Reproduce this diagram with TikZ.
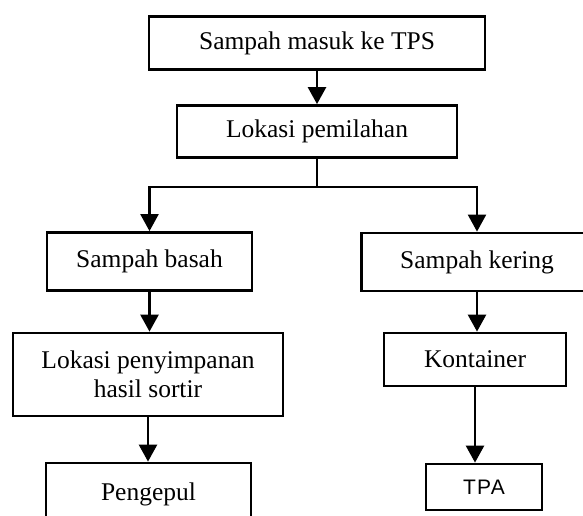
\documentclass[tikz,border=0pt]{standalone}
\usepackage{fontspec}
\setmainfont{Liberation Serif}
\newfontfamily\tpafont[LetterSpace=6]{Liberation Sans}
\usetikzlibrary{arrows.meta}

\begin{document}
\begin{tikzpicture}[x=1pt, y=-1pt,
	kotak/.style={rectangle, draw, line width=2.8pt, text centered, inner sep=0pt,
		font=\fontsize{25.5}{29}\selectfont},
	panah/.style={line width=2.6pt, -{Triangle[length=17pt, width=18pt]}}]
			
			\useasboundingbox (0,0) rectangle (583,515);
			
			%Blocks
			\node (masukTPS) at (317,43) [kotak, minimum width=336pt, minimum height=53pt] {Sampah masuk ke TPS};
			\node (pemilahan) at (317,131.5) [kotak, minimum width=280pt, minimum height=52pt] {Lokasi pemilahan};
			\node (basah) at (149.5,261.5) [kotak, minimum width=205pt, minimum height=58pt] {Sampah basah};
			\node (kering) at (477,262) [kotak, minimum width=231pt, minimum height=58pt] {Sampah kering};
			\node (penyimpanan) at (148,374.5) [kotak, minimum width=270pt, minimum height=83pt, 
			align=center] {Lokasi penyimpanan\\hasil sortir};
			\node (kontainer) at (475,359.5) [kotak, minimum width=182pt, minimum height=53pt] {Kontainer};
			\node (pengepul) at (148.5,494) [kotak, minimum width=205pt, minimum height=62pt] {Pengepul};
			\node (tpa) at (484,487) [kotak, minimum width=116pt, minimum height=46pt, 
			font=\tpafont\fontsize{21}{24}\selectfont] {TPA};
			\coordinate (cabang) at (317,187);
			
			%Links
			\draw [panah] (masukTPS.south) -- (pemilahan.north);
			\draw [line width=2.2pt] (pemilahan.south) -- (cabang);
			\draw [panah, line width=2.2pt] (cabang) -| (basah.north);
			\draw [panah, line width=2.2pt] (cabang) -| (kering.north);
			\draw [panah] (basah.south) -- (basah.south |- penyimpanan.north);
			\draw [panah] (penyimpanan.south) -- (penyimpanan.south |- pengepul.north);
			\draw [panah] (kering.south) -- (kering.south |- kontainer.north);
			\draw [panah] (kontainer.south) -- (kontainer.south |- tpa.north);
			
\end{tikzpicture}
\end{document}
